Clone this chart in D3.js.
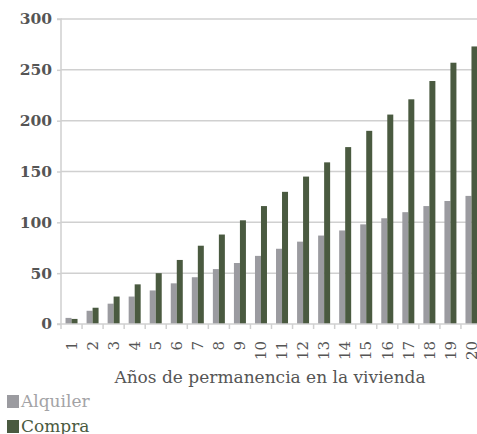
<!DOCTYPE html>
<html><head><meta charset="utf-8">
<script src="https://cdn.jsdelivr.net/npm/d3@7"></script>
<style>body{margin:0;background:#fff}svg{display:block}</style>
</head><body>
<svg id="c" width="477" height="434"></svg>
<script>
const years = ["1","2","3","4","5","6","7","8","9","10","11","12","13","14","15","16","17","18","19","20"];
const alquiler = [6,13,20,27,33,40,46,54,60,67,74,81,87,92,98,104,110,116,121,126];
const compra = [5,16,27,39,50,63,77,88,102,116,130,145,159,174,190,206,221,239,257,273];
const yTicks = [0,50,100,150,200,250,300];
const seriesNames = ["Alquiler","Compra"];
const colors = ["#9b9ba0","#4a5a40"];
const legendText = ["#a3a3a6","#4a5a40"];

(function(){
const svg = d3.select("#c");
const font = "DejaVu Serif";
const pLeft = 61, pRight = 482, pTop = 19, pBottom = 324;

const x = d3.scaleBand().domain(years).range([pLeft, pRight]);
const y = d3.scaleLinear().domain([0,300]).range([pBottom, pTop]);
const inner = d3.scaleBand().domain(seriesNames).range([x.bandwidth()/2 - 6, x.bandwidth()/2 + 6]);

// gridlines
svg.append("g").selectAll("line").data(yTicks.filter(d=>d>0)).join("line")
  .attr("x1", pLeft).attr("x2", 477).attr("y1", d=>y(d)).attr("y2", d=>y(d))
  .attr("stroke", "#d0d0d0").attr("stroke-width", 1.5);

// y axis
const ya = svg.append("g").attr("transform", `translate(${pLeft},0)`)
  .call(d3.axisLeft(y).tickValues(yTicks).tickSize(4).tickPadding(5));
ya.select(".domain").attr("stroke", "#d0d0d0").attr("stroke-width", 1.5).attr("d", `M-4,${pTop}H0V${pBottom}H-4`);
ya.selectAll(".tick line").attr("stroke", "#d0d0d0").attr("stroke-width", 1.5);
ya.selectAll(".tick text").attr("font-family", font).attr("font-size", "15.5px").attr("fill", "#555").attr("font-weight", "bold");

// bars
const data = years.map((yr,i)=>({yr, vals:[alquiler[i], compra[i]]}));
const g = svg.append("g");
data.forEach(d=>{
  d.vals.forEach((v,j)=>{
    g.append("rect")
      .attr("x", x(d.yr) + inner(seriesNames[j]))
      .attr("width", inner.bandwidth())
      .attr("y", y(v)).attr("height", y(0)-y(v))
      .attr("fill", colors[j]);
  });
});

// x axis
const xa = svg.append("g").attr("transform", `translate(0,${pBottom})`)
  .call(d3.axisBottom(x).tickSize(5).tickPadding(6));
xa.select(".domain").attr("stroke", "#d0d0d0").attr("stroke-width", 1.5).attr("d", `M${pLeft},0H${pRight}`);
xa.selectAll(".tick line").attr("stroke", "#d0d0d0").attr("stroke-width", 1.5)
  .attr("transform", `translate(${-x.bandwidth()/2},0)`);
xa.selectAll(".tick text")
  .attr("font-family", font).attr("font-size", "15px").attr("fill", "#555")
  .attr("transform", "rotate(-90)").attr("text-anchor", "end")
  .attr("x", -17).attr("y", 0).attr("dy", "0.35em");

// x title
svg.append("text").attr("x", 270).attr("y", 383).attr("text-anchor", "middle")
  .attr("font-family", font).attr("font-size", "17px").attr("fill", "#555")
  .text("Años de permanencia en la vivienda");

// legend
const lg = svg.append("g");
seriesNames.forEach((n,i)=>{
  lg.append("rect").attr("x", 7).attr("y", 395 + i*25).attr("width", 12).attr("height", 13).attr("fill", colors[i]);
  lg.append("text").attr("x", 21).attr("y", 407 + i*25)
    .attr("font-family", font).attr("font-size", "17px").attr("fill", legendText[i]).text(n);
});
})();
</script>
</body></html>
